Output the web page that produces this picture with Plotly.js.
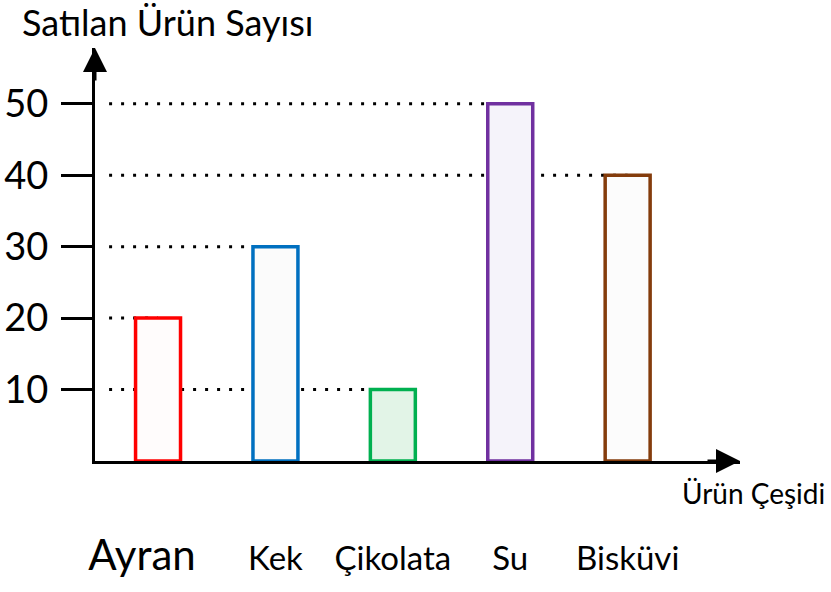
<!DOCTYPE html>
<html>
<head>
<meta charset="utf-8">
<script src="https://cdn.plot.ly/plotly-3.0.1.min.js"></script>
<style>html,body{margin:0;padding:0;background:#fff;}#chart{width:831px;height:592px;}</style>
</head>
<body>
<div id="chart"></div>
<script>
const categories = ['Ayran', 'Kek', 'Çikolata', 'Su', 'Bisküvi'];
const values = [20, 30, 10, 50, 40];
const categoryLabels = ['<span style="font-size:42px">Ayran&nbsp;&nbsp;&nbsp;</span>', 'Kek', 'Çikolata', 'Su', 'Bisküvi'];
const lineColors = ['#ff0000', '#0070c0', '#00b050', '#7030a0', '#843c0c'];
const fillColors = ['#fffcfc', '#fbfbfb', '#e2f4e7', '#f5f3fa', '#fcfcfc'];
const tickValues = [10, 20, 30, 40, 50];
const tickLabels = ['10', '20', '30', '40', '50'];
const yTitle = 'Satılan Ürün Sayısı';
const xTitle = 'Ürün Çeşidi';

const FONT = 'Lato, "Noto Sans", sans-serif';
const xRange = [-0.537, 4.957];
const yRange = [0, 57.8];

// dotted guide lines from y axis to the bar having that value
const shapes = tickValues.map(v => {
  const idx = values.indexOf(v);
  return {
    type: 'line', xref: 'x', yref: 'y', layer: 'below',
    x0: xRange[0] + 0.12, x1: idx >= 0 ? idx : xRange[1], y0: v, y1: v,
    line: {color: '#000', width: 3, dash: '3px,9px'}
  };
});

const data = [{
  type: 'bar',
  x: categories,
  y: values,
  width: 0.383,
  marker: {color: fillColors, line: {color: lineColors, width: 3.5}},
  hoverinfo: 'x+y'
}];

const layout = {
  width: 831, height: 592,
  margin: {l: 95, r: 91, t: 48, b: 131},
  paper_bgcolor: '#fff', plot_bgcolor: 'rgba(0,0,0,0)',
  showlegend: false,
  font: {family: FONT, color: '#000'},
  xaxis: {
    type: 'category', range: xRange,
    showline: true, linewidth: 3, linecolor: '#000',
    showgrid: false, zeroline: false, ticks: '',
    tickvals: categories, ticktext: categoryLabels,
    tickfont: {family: FONT, size: 33, color: '#000'},
    ticklabelstandoff: 66
  },
  yaxis: {
    range: yRange, showline: true, linewidth: 3, linecolor: '#000',
    showgrid: false, zeroline: false,
    ticks: 'outside', ticklen: 31, tickwidth: 3, tickcolor: '#000',
    tickvals: tickValues, ticktext: tickLabels,
    tickfont: {family: FONT, size: 38, color: '#000'},
    ticklabelstandoff: 5
  },
  shapes: shapes,
  annotations: [
    {xref: 'paper', yref: 'paper', x: 0, y: 1, ax: 0, ay: 34, text: '', showarrow: true,
     arrowhead: 2, arrowsize: 1.6, arrowwidth: 3, arrowcolor: '#000'},
    {xref: 'paper', yref: 'paper', x: 1, y: 0, ax: -34, ay: 0, text: '', showarrow: true,
     arrowhead: 2, arrowsize: 1.6, arrowwidth: 3, arrowcolor: '#000'},
    {xref: 'paper', yref: 'paper', x: -0.116, y: 1.063, xanchor: 'left', yanchor: 'middle',
     text: yTitle, showarrow: false, font: {family: FONT, size: 36, color: '#000'}},
    {xref: 'paper', yref: 'paper', x: 1.135, y: -0.077, xanchor: 'right', yanchor: 'middle',
     text: xTitle, showarrow: false, font: {family: FONT, size: 28, color: '#000'}}
  ]
};

Plotly.newPlot('chart', data, layout, {displayModeBar: false, responsive: false});
</script>
</body>
</html>
